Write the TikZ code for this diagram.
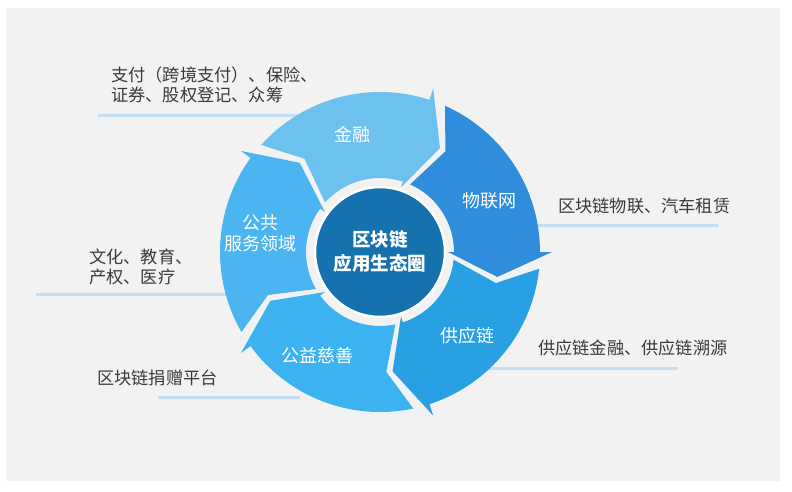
\documentclass[tikz,border=0pt]{standalone}
\usepackage{fontspec}
\setmainfont{Noto Sans CJK SC}

\definecolor{bggray}{HTML}{F2F2F2}
\definecolor{finc}{HTML}{6DC1EE}
\definecolor{iotc}{HTML}{2F8DDC}
\definecolor{supc}{HTML}{29A0E3}
\definecolor{chac}{HTML}{3DB2F1}
\definecolor{pubc}{HTML}{4BB5F1}
\definecolor{corec}{HTML}{1672AE}
\definecolor{rulec}{HTML}{C3DEF2}
\definecolor{txtc}{HTML}{3A3A3A}

\tikzset{
  note/.style={font=\fontsize{17.2}{20}\selectfont, text=txtc, align=left, inner sep=0pt, anchor=west},
  seglabel/.style={font=\fontsize{18}{21}\selectfont, text=white, align=center, inner sep=0pt},
  underline/.style={rulec, line width=3pt}
}

\begin{document}
\begin{tikzpicture}[x=1pt,y=1pt]

        % Page and grey panel
        \useasboundingbox (0,0) rectangle (792,491);
        \fill[bggray] (6,10) rectangle (780,483);

        % Underlines running in under the ring
        \foreach \i/\xa/\xb/\y in {1/98/300/375, 2/36/240/197, 3/158/300/94, 4/500/718/266, 5/470/678/123} {
            \coordinate (U\i a) at (\xa,\y);
            \coordinate (U\i b) at (\xb,\y);
            \draw[underline] (U\i a) -- (U\i b);
        }

        % Notes above the underlines
        \node[note] (N1) at (111,406) {支付（跨境支付）、保险、\\证券、股权登记、众筹};
        \node[note] (N2) at (89,224) {文化、教育、\\产权、医疗};
        \node[note] (N3) at (97,113) {区块链捐赠平台};
        \node[note] (N4) at (558,285) {区块链物联、汽车租赁};
        \node[note] (N5) at (538,143) {供应链金融、供应链溯源};

        % Define the radii of the ring
        \def\rout{160pt}
        \def\rin{74pt}

        % Loop to draw the five arrow segments of the ring and add labels
        \begin{scope}[shift={(380,239)}]
        \foreach \ang/\col/\la/\lbl [count=\i] in {138/finc/103/金融, 66/iotc/25/物联网, -6/supc/-44/供应链, -78/chac/-121/公益慈善, 210/pubc/171/{公共\\服务领域}} {
            \pgfmathsetmacro{\head}{\ang-66}
            \pgfmathsetmacro{\tip}{\ang-78}
            \pgfmathsetmacro{\notch}{\ang-9}
            \fill[\col] (\ang:\rout) arc[start angle=\ang, end angle=\head, radius=\rout]
                -- (\head:172pt) -- (\tip:120pt) -- (\head:68pt) -- (\head:\rin)
                arc[start angle=\head, end angle=\ang, radius=\rin]
                -- (\notch:120pt) -- cycle;
            \node[seglabel] (S\i) at (\la:121pt) {\lbl};
        }
        \end{scope}

        % Centre disk
        \node[circle, fill=corec, draw=white, line width=2.5pt, minimum size=130pt, text=white, align=center,
              font=\fontsize{18.5}{24}\selectfont\bfseries] (core) at (380,239) {区块链\\应用生态圈};

\end{tikzpicture}
\end{document}
